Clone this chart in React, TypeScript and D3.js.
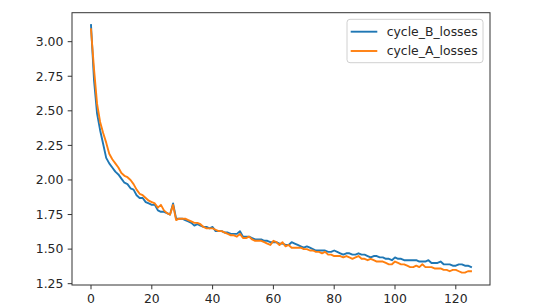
import React from "react";
import * as d3 from "d3";

const seriesNames = ["cycle_B_losses", "cycle_A_losses"];
const seriesColors = ["#1f77b4", "#ff7f0e"];

const cycleB: number[] = [
  3.12, 2.72, 2.48, 2.36, 2.26, 2.16, 2.12, 2.09, 2.06, 2.04,
  2.01, 1.98, 1.97, 1.94, 1.93, 1.89, 1.87, 1.87, 1.84, 1.83,
  1.82, 1.82, 1.78, 1.77, 1.77, 1.76, 1.75, 1.83, 1.72, 1.72,
  1.72, 1.71, 1.70, 1.69, 1.67, 1.68, 1.67, 1.66, 1.66, 1.65,
  1.66, 1.63, 1.63, 1.63, 1.62, 1.62, 1.61, 1.61, 1.61, 1.63,
  1.59, 1.59, 1.59, 1.58, 1.57, 1.57, 1.57, 1.56, 1.56, 1.55,
  1.55, 1.55, 1.54, 1.54, 1.53, 1.53, 1.55, 1.54, 1.53, 1.52,
  1.51, 1.52, 1.51, 1.50, 1.49, 1.49, 1.49, 1.49, 1.48, 1.48,
  1.49, 1.48, 1.47, 1.46, 1.47, 1.47, 1.46, 1.46, 1.47, 1.46,
  1.46, 1.45, 1.44, 1.45, 1.45, 1.44, 1.44, 1.43, 1.43, 1.42,
  1.44, 1.43, 1.43, 1.42, 1.42, 1.42, 1.42, 1.42, 1.41, 1.41,
  1.41, 1.42, 1.40, 1.40, 1.40, 1.41, 1.39, 1.39, 1.39, 1.38,
  1.38, 1.39, 1.39, 1.38, 1.38, 1.37,
];

const cycleA: number[] = [
  3.09, 2.80, 2.55, 2.42, 2.34, 2.27, 2.19, 2.15, 2.12, 2.09,
  2.05, 2.03, 2.02, 2.00, 1.97, 1.93, 1.90, 1.89, 1.87, 1.85,
  1.84, 1.83, 1.80, 1.82, 1.78, 1.76, 1.75, 1.82, 1.71, 1.72,
  1.72, 1.72, 1.71, 1.70, 1.69, 1.69, 1.68, 1.66, 1.65, 1.65,
  1.65, 1.64, 1.63, 1.63, 1.62, 1.61, 1.60, 1.60, 1.59, 1.61,
  1.58, 1.58, 1.59, 1.57, 1.56, 1.56, 1.56, 1.55, 1.54, 1.53,
  1.56, 1.55, 1.53, 1.55, 1.52, 1.53, 1.51, 1.51, 1.51, 1.51,
  1.50, 1.50, 1.49, 1.49, 1.48, 1.48, 1.47, 1.48, 1.46, 1.46,
  1.45, 1.45, 1.45, 1.44, 1.45, 1.44, 1.43, 1.44, 1.45, 1.43,
  1.43, 1.42, 1.43, 1.42, 1.41, 1.41, 1.41, 1.40, 1.39, 1.39,
  1.41, 1.40, 1.39, 1.39, 1.38, 1.37, 1.37, 1.38, 1.37, 1.39,
  1.37, 1.37, 1.37, 1.36, 1.36, 1.36, 1.35, 1.35, 1.34, 1.35,
  1.35, 1.34, 1.33, 1.33, 1.34, 1.34,
];

const xTicks = [0, 20, 40, 60, 80, 100, 120];
const yTicks = [1.25, 1.5, 1.75, 2.0, 2.25, 2.5, 2.75, 3.0];

const W = 544;
const H = 307;
const plot = { left: 72, right: 490, top: 12.7, bottom: 285 };
const FONT = "'DejaVu Sans', sans-serif";
const FS = 12.4;
const TICK = 4.3;

export default function App() {
  const series = [cycleB, cycleA];
  const n = cycleB.length - 1;
  const allVals = [...cycleB, ...cycleA];
  const yMin = d3.min(allVals)!;
  const yMax = d3.max(allVals)!;
  const yPad = (yMax - yMin) * 0.05;
  const x = d3
    .scaleLinear()
    .domain([-n * 0.05, n * 1.05])
    .range([plot.left, plot.right]);
  const y = d3
    .scaleLinear()
    .domain([yMin - yPad, yMax + yPad])
    .range([plot.bottom, plot.top]);
  const line = d3
    .line<number>()
    .x((_, i) => x(i))
    .y((d) => y(d));

  const legend = { x0: 347, y0: 19.3, x1: 483, y1: 62.7 };
  const rowY = [31.7, 51];

  return (
    <div style={{ position: "absolute", left: 0, top: 0, width: W, height: H, background: "#fff" }}>
      <svg width={W} height={H} style={{ display: "block" }}>
        <rect x={0} y={0} width={W} height={H} fill="#fff" />
        <defs>
          <clipPath id="plotclip">
            <rect x={plot.left} y={plot.top} width={plot.right - plot.left} height={plot.bottom - plot.top} />
          </clipPath>
        </defs>
        <g clipPath="url(#plotclip)">
          {series.map((s, k) => (
            <path
              key={k}
              d={line(s) || ""}
              fill="none"
              stroke={seriesColors[k]}
              strokeWidth={1.9}
              strokeLinejoin="round"
              strokeLinecap="square"
            />
          ))}
        </g>
        <rect
          x={plot.left}
          y={plot.top}
          width={plot.right - plot.left}
          height={plot.bottom - plot.top}
          fill="none"
          stroke="#333"
          strokeWidth={1}
        />
        {yTicks.map((t) => (
          <g key={"y" + t}>
            <line x1={plot.left - TICK} x2={plot.left} y1={y(t)} y2={y(t)} stroke="#333" strokeWidth={1} />
            <text
              x={plot.left - TICK - 4.3}
              y={y(t)}
              dy="0.35em"
              textAnchor="end"
              fontFamily={FONT}
              fontSize={FS}
              fill="#262626"
            >
              {d3.format(".2f")(t)}
            </text>
          </g>
        ))}
        {xTicks.map((t) => (
          <g key={"x" + t}>
            <line x1={x(t)} x2={x(t)} y1={plot.bottom} y2={plot.bottom + TICK} stroke="#333" strokeWidth={1} />
            <text
              x={x(t)}
              y={plot.bottom + TICK + 4.3 + FS * 0.76}
              textAnchor="middle"
              fontFamily={FONT}
              fontSize={FS}
              fill="#262626"
            >
              {t}
            </text>
          </g>
        ))}
        <rect
          x={legend.x0}
          y={legend.y0}
          width={legend.x1 - legend.x0}
          height={legend.y1 - legend.y0}
          rx={3}
          fill="#fff"
          fillOpacity={0.8}
          stroke="#d0d0d0"
          strokeWidth={1}
        />
        {seriesNames.map((name, k) => (
          <g key={name}>
            <line
              x1={350.7}
              x2={377.3}
              y1={rowY[k]}
              y2={rowY[k]}
              stroke={seriesColors[k]}
              strokeWidth={1.9}
            />
            <text x={386.7} y={rowY[k]} dy="0.35em" fontFamily={FONT} fontSize={FS} fill="#262626">
              {name}
            </text>
          </g>
        ))}
      </svg>
    </div>
  );
}
